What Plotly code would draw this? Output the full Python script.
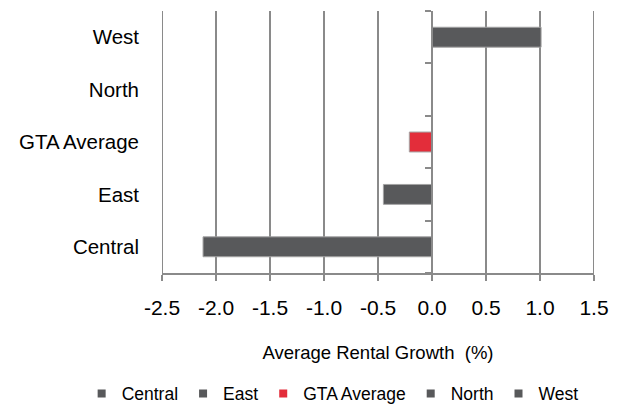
import plotly.graph_objects as go

# Average rental growth by region (%)
regions = ["Central", "East", "GTA Average", "North", "West"]
growth = [-2.12, -0.45, -0.21, 0.0, 1.01]
bar_colors = ["#58595b", "#58595b", "#e32d3a", "#58595b", "#58595b"]

x_ticks = [-2.5, -2.0, -1.5, -1.0, -0.5, 0.0, 0.5, 1.0, 1.5]
x_range = [-2.5, 1.5]

FONT = "Arial, 'Liberation Sans', sans-serif"
GRID = "#8a8a8a"

fig = go.Figure()

# vertical gridlines at every x tick, behind the bars
for v in x_ticks:
    fig.add_shape(type="line", xref="x", yref="paper", x0=v, x1=v, y0=0, y1=1,
                  line=dict(color=GRID, width=2), layer="below")

# one bar per region so each gets its own legend entry
for name, val, col in zip(regions, growth, bar_colors):
    fig.add_trace(go.Bar(
        x=[val], y=[name], name=name, orientation="h",
        marker=dict(color=col, line=dict(color="#a3a3a3", width=1)),
        showlegend=False,
    ))
    # small square legend keys
    fig.add_trace(go.Scatter(
        x=[None], y=[None], name=name, mode="markers",
        marker=dict(symbol="square", size=8, color=col),
        showlegend=True,
    ))

# category axis drawn through zero, with tick marks between categories
fig.add_trace(go.Scatter(x=[None], y=[None], yaxis="y2", showlegend=False,
                         hoverinfo="skip"))

zero_pos = (0 - x_range[0]) / (x_range[1] - x_range[0])

fig.update_layout(
    width=625, height=404,
    margin=dict(l=162, r=31, t=11, b=131, autoexpand=False),
    paper_bgcolor="white", plot_bgcolor="white",
    barmode="overlay", bargap=0.62,
    font=dict(family=FONT, color="#000000"),
    xaxis=dict(
        range=x_range, tickvals=x_ticks,
        ticktext=[f"{v:.1f}" for v in x_ticks],
        showgrid=False, zeroline=False,
        showline=True, linecolor=GRID, linewidth=1.5,
        ticks="outside", ticklen=6, tickcolor=GRID, tickwidth=1.5,
        tickfont=dict(size=21), ticklabelstandoff=9,
        title=dict(text="Average Rental Growth  (%)", font=dict(size=18.5),
                   standoff=28),
    ),
    yaxis=dict(
        type="category", categoryorder="array", categoryarray=regions,
        range=[-0.5, len(regions) - 0.5],
        showgrid=False, zeroline=False, showline=False, ticks="",
        tickfont=dict(size=20.5), ticklabelstandoff=22,
    ),
    yaxis2=dict(
        overlaying="y", anchor="free", position=zero_pos, side="left",
        range=[-0.5, len(regions) - 0.5],
        tickvals=[i - 0.5 for i in range(len(regions) + 1)],
        showticklabels=False, showgrid=False, zeroline=False,
        showline=True, linecolor=GRID, linewidth=1.5,
        ticks="outside", ticklen=6, tickcolor=GRID, tickwidth=1.5,
    ),
    legend=dict(
        orientation="h", x=-0.186, xanchor="left", y=-0.392, yanchor="top",
        font=dict(size=17.5), itemwidth=30, bgcolor="rgba(0,0,0,0)",
    ),
)

fig.write_html("out.html")
